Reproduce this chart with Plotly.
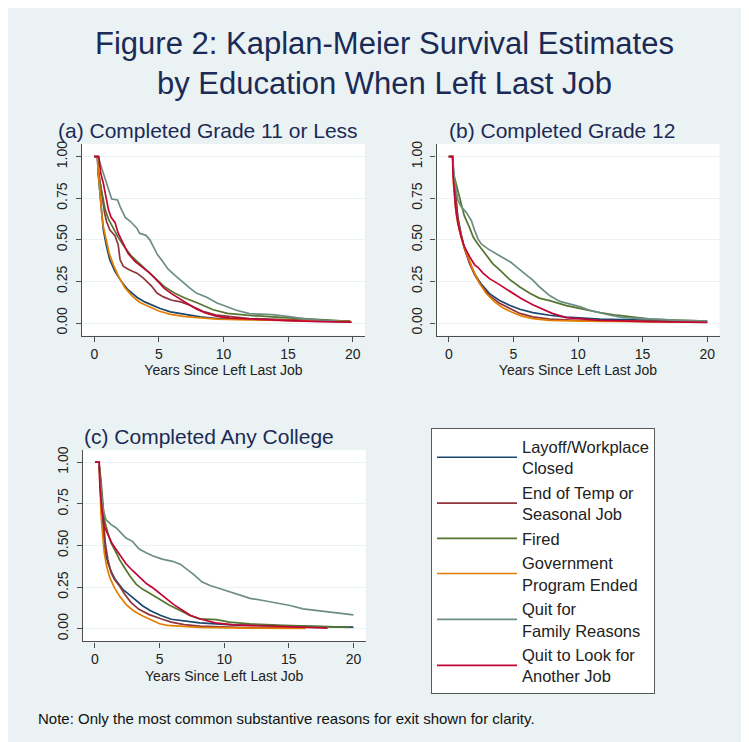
import plotly.graph_objects as go

W, H = 749, 742

# ---------------- labels / styling data ----------------
reasons = ["Layoff/Workplace<br>Closed", "End of Temp or<br>Seasonal Job", "Fired",
           "Government<br>Program Ended", "Quit for<br>Family Reasons",
           "Quit to Look for<br>Another Job"]
colors = ["#1a476f", "#90353b", "#55752f", "#e37e00", "#6e8e84", "#c10534"]
panel_titles = ["(a) Completed Grade 11 or Less", "(b) Completed Grade 12",
                "(c) Completed Any College"]
x_ticks = [0, 5, 10, 15, 20]
y_ticks = [0, 0.25, 0.5, 0.75, 1.0]
y_tick_text = ["0.00", "0.25", "0.50", "0.75", "1.00"]

# ---------------- Panel (a): Grade 11 or less ----------------
a_layoff_t = [0, 0.25, 0.3, 0.45, 0.57, 0.7, 0.95, 1.2, 1.6, 2.1, 2.6, 3.3, 3.9, 4.4, 5.1, 5.9, 6.9, 8.2, 9.5, 12, 16, 19.8]
a_layoff_s = [1, 1, 0.9, 0.76, 0.66, 0.56, 0.46, 0.38, 0.31, 0.25, 0.2, 0.155, 0.127, 0.11, 0.087, 0.067, 0.052, 0.037, 0.027, 0.021, 0.015, 0.008]
a_temp_t = [0, 0.25, 0.3, 0.45, 0.6, 0.8, 0.95, 1.2, 1.6, 1.85, 2.0, 2.25, 2.7, 3.3, 3.8, 4.4, 4.85, 5.35, 6.0, 6.7, 7.4, 8.4, 9.5, 12, 16, 19.8]
a_temp_s = [1, 1, 0.93, 0.84, 0.76, 0.66, 0.61, 0.56, 0.525, 0.47, 0.38, 0.34, 0.32, 0.30, 0.27, 0.225, 0.18, 0.157, 0.137, 0.127, 0.107, 0.07, 0.047, 0.027, 0.017, 0.011]
a_fired_t = [0, 0.25, 0.3, 0.45, 0.6, 0.85, 1.1, 1.45, 1.85, 2.35, 2.9, 3.4, 4.0, 4.7, 5.4, 6.2, 7.0, 8.0, 9.2, 10.3, 11.8, 13.8, 16.4, 18.5, 19.8]
a_fired_s = [1, 1, 0.9, 0.84, 0.76, 0.68, 0.625, 0.575, 0.515, 0.455, 0.4, 0.365, 0.32, 0.27, 0.22, 0.18, 0.15, 0.12, 0.08, 0.058, 0.047, 0.037, 0.025, 0.016, 0.01]
a_gov_t = [0, 0.25, 0.28, 0.36, 0.45, 0.57, 0.7, 0.9, 1.15, 1.5, 1.85, 2.35, 2.9, 3.5, 4.2, 5.0, 5.9, 6.9, 8.0, 9.5, 12, 15, 19.9]
a_gov_s = [1, 1, 0.94, 0.86, 0.76, 0.66, 0.58, 0.5, 0.42, 0.345, 0.285, 0.215, 0.165, 0.125, 0.098, 0.072, 0.052, 0.04, 0.032, 0.024, 0.019, 0.015, 0.008]
a_family_t = [0, 0.3, 0.45, 0.8, 1.1, 1.35, 1.8, 2.0, 2.4, 2.8, 3.3, 3.5, 4.0, 4.3, 4.6, 4.9, 5.3, 5.7, 6.2, 6.7, 7.4, 7.9, 8.7, 9.5, 10.3, 11.0, 12.0, 13.8, 15.1, 16.4, 18.0, 19.9]
a_family_s = [1, 1, 0.96, 0.88, 0.80, 0.745, 0.74, 0.70, 0.635, 0.61, 0.57, 0.54, 0.527, 0.50, 0.455, 0.41, 0.37, 0.325, 0.29, 0.255, 0.21, 0.18, 0.155, 0.12, 0.098, 0.077, 0.057, 0.05, 0.038, 0.024, 0.014, 0.005]
a_look_t = [0, 0.35, 0.5, 0.7, 0.9, 1.1, 1.3, 1.6, 1.85, 2.25, 2.6, 3.15, 3.8, 4.3, 4.8, 5.4, 6.0, 6.6, 7.2, 7.9, 8.6, 9.5, 10.5, 12.5, 15, 17.5, 19.9]
a_look_s = [1, 1, 0.9, 0.84, 0.76, 0.68, 0.635, 0.605, 0.54, 0.48, 0.42, 0.37, 0.33, 0.30, 0.26, 0.21, 0.175, 0.145, 0.115, 0.085, 0.06, 0.04, 0.03, 0.022, 0.015, 0.009, 0.005]

# ---------------- Panel (b): Grade 12 ----------------
b_layoff_t = [0, 0.3, 0.36, 0.52, 0.7, 0.95, 1.2, 1.6, 2.0, 2.5, 3.15, 3.9, 4.7, 5.5, 6.5, 7.8, 9.1, 11.7, 15.6, 20]
b_layoff_s = [1, 1, 0.9, 0.755, 0.635, 0.535, 0.455, 0.365, 0.297, 0.235, 0.177, 0.137, 0.107, 0.083, 0.063, 0.047, 0.035, 0.023, 0.015, 0.008]
b_temp_t = [0, 0.3, 0.36, 0.52, 0.7, 0.95, 1.2, 1.6, 2.0, 2.5, 3.15, 3.9, 4.7, 5.5, 6.5, 7.8, 10.4, 15.6, 20]
b_temp_s = [1, 1, 0.9, 0.75, 0.63, 0.53, 0.45, 0.36, 0.29, 0.225, 0.165, 0.12, 0.088, 0.058, 0.037, 0.024, 0.015, 0.01, 0.006]
b_fired_t = [0, 0.3, 0.36, 0.7, 0.95, 1.2, 1.6, 1.9, 2.25, 2.8, 3.4, 4.0, 4.7, 5.5, 6.3, 7.0, 7.8, 9.1, 10.4, 11.7, 13, 14.3, 15.6, 17.4, 20]
b_fired_s = [1, 1, 0.9, 0.8, 0.715, 0.645, 0.575, 0.515, 0.475, 0.415, 0.357, 0.315, 0.262, 0.217, 0.177, 0.15, 0.135, 0.105, 0.083, 0.063, 0.047, 0.034, 0.024, 0.018, 0.012]
b_gov_t = [0, 0.3, 0.36, 0.57, 0.83, 1.1, 1.5, 1.9, 2.4, 2.9, 3.55, 4.2, 4.9, 5.6, 6.5, 7.8, 10.4, 15, 20]
b_gov_s = [1, 1, 0.84, 0.655, 0.555, 0.475, 0.395, 0.315, 0.237, 0.177, 0.127, 0.09, 0.065, 0.043, 0.027, 0.016, 0.012, 0.008, 0.005]
b_family_t = [0, 0.3, 0.36, 0.44, 0.7, 0.95, 1.35, 1.75, 2.0, 2.25, 2.5, 3.0, 3.7, 4.3, 4.8, 5.4, 5.9, 6.5, 7.05, 7.8, 8.6, 9.4, 10.2, 10.9, 12.5, 13.5, 15.6, 17.4, 20]
b_family_s = [1, 1, 0.94, 0.86, 0.74, 0.7, 0.665, 0.615, 0.557, 0.507, 0.477, 0.447, 0.415, 0.39, 0.365, 0.327, 0.295, 0.258, 0.215, 0.165, 0.13, 0.115, 0.097, 0.077, 0.047, 0.033, 0.023, 0.017, 0.012]
b_look_t = [0, 0.3, 0.32, 0.44, 0.52, 0.7, 0.95, 1.2, 1.6, 2.0, 2.25, 2.65, 3.15, 3.8, 4.5, 5.0, 5.6, 6.5, 7.4, 8.0, 9.1, 11.7, 15.6, 20]
b_look_s = [1, 1, 0.9, 0.8, 0.7, 0.6, 0.52, 0.46, 0.4, 0.35, 0.335, 0.3, 0.267, 0.237, 0.2, 0.175, 0.147, 0.11, 0.08, 0.058, 0.033, 0.016, 0.008, 0.004]

# ---------------- Panel (c): Any college ----------------
c_layoff_t = [0, 0.3, 0.46, 0.54, 0.64, 0.8, 1.0, 1.25, 1.5, 1.75, 2.15, 2.65, 3.2, 3.7, 4.3, 5.1, 5.9, 6.9, 8.1, 10.7, 13.3, 15.9, 20]
c_layoff_s = [1, 1, 0.855, 0.735, 0.595, 0.455, 0.395, 0.345, 0.305, 0.277, 0.237, 0.205, 0.167, 0.137, 0.108, 0.08, 0.057, 0.045, 0.035, 0.024, 0.018, 0.014, 0.01]
c_temp_t = [0, 0.3, 0.46, 0.54, 0.64, 0.8, 1.0, 1.25, 1.5, 1.9, 2.3, 2.8, 3.4, 4.2, 5.1, 5.9, 6.9, 8.1, 11, 16]
c_temp_s = [1, 1, 0.86, 0.775, 0.655, 0.515, 0.415, 0.337, 0.297, 0.257, 0.207, 0.157, 0.117, 0.085, 0.06, 0.04, 0.025, 0.016, 0.009, 0.004]
c_fired_t = [0, 0.3, 0.46, 0.6, 0.72, 1.0, 1.25, 1.65, 1.9, 2.3, 2.7, 3.2, 3.7, 4.3, 5.0, 5.8, 6.6, 7.3, 8.1, 9.4, 10.4, 12, 14.6, 17.2, 19.7]
c_fired_s = [1, 1, 0.895, 0.755, 0.655, 0.575, 0.515, 0.455, 0.415, 0.365, 0.317, 0.267, 0.237, 0.21, 0.178, 0.14, 0.11, 0.082, 0.06, 0.055, 0.04, 0.03, 0.02, 0.012, 0.008]
c_gov_t = [0, 0.3, 0.39, 0.46, 0.6, 0.72, 0.9, 1.15, 1.5, 1.9, 2.4, 3.0, 3.7, 4.4, 5.0, 5.6, 6.5, 8.1, 12, 16.3]
c_gov_s = [1, 1, 0.855, 0.695, 0.555, 0.455, 0.375, 0.307, 0.247, 0.197, 0.147, 0.107, 0.077, 0.05, 0.03, 0.02, 0.015, 0.008, 0.004, 0.002]
c_family_t = [0, 0.3, 0.46, 0.64, 0.85, 1.25, 1.65, 2.0, 2.4, 2.9, 3.4, 3.95, 4.5, 5.2, 6.0, 6.6, 7.1, 7.6, 8.3, 8.9, 9.7, 10.5, 11.2, 12.0, 13.0, 14.1, 15.1, 16.1, 17.2, 18.2, 19.2, 20]
c_family_s = [1, 1, 0.835, 0.715, 0.655, 0.625, 0.605, 0.575, 0.545, 0.525, 0.48, 0.457, 0.437, 0.418, 0.405, 0.388, 0.358, 0.328, 0.28, 0.26, 0.24, 0.22, 0.203, 0.183, 0.17, 0.155, 0.14, 0.12, 0.11, 0.1, 0.09, 0.083]
c_look_t = [0, 0.33, 0.38, 0.54, 0.72, 1.0, 1.3, 1.65, 2.0, 2.4, 2.9, 3.45, 4.0, 4.5, 5.0, 5.5, 6.1, 6.8, 7.4, 8.1, 9.3, 10.7, 13.3, 15.9, 18]
c_look_s = [1, 1, 0.855, 0.715, 0.615, 0.565, 0.515, 0.475, 0.435, 0.39, 0.35, 0.31, 0.27, 0.245, 0.215, 0.18, 0.145, 0.11, 0.08, 0.06, 0.036, 0.024, 0.016, 0.01, 0.004]

panels = [
    [(a_layoff_t, a_layoff_s), (a_temp_t, a_temp_s), (a_fired_t, a_fired_s),
     (a_gov_t, a_gov_s), (a_family_t, a_family_s), (a_look_t, a_look_s)],
    [(b_layoff_t, b_layoff_s), (b_temp_t, b_temp_s), (b_fired_t, b_fired_s),
     (b_gov_t, b_gov_s), (b_family_t, b_family_s), (b_look_t, b_look_s)],
    [(c_layoff_t, c_layoff_s), (c_temp_t, c_temp_s), (c_fired_t, c_fired_s),
     (c_gov_t, c_gov_s), (c_family_t, c_family_s), (c_look_t, c_look_s)],
]

# ---------------- figure ----------------
FONT = "Liberation Sans, Arial, Helvetica, sans-serif"
BG = "#eaf2f3"
NAVY = "#1c2a56"
AXIS = "#4d4d4d"

fig = go.Figure()
axis_suffix = ["", "2", "3"]
for p, series in enumerate(panels):
    for i, (t, s) in enumerate(series):
        fig.add_trace(go.Scatter(
            x=t, y=s, mode="lines", name=reasons[i],
            line=dict(color=colors[i], width=1.7),
            xaxis="x" + axis_suffix[p], yaxis="y" + axis_suffix[p],
            legendgroup=str(i), showlegend=(p == 0),
            hoverinfo="skip"))

# page pixel -> paper fraction (the page has an 8px body margin)
OFF = 8

def fx(px):
    return (px - OFF) / W

def fy(py):
    return 1 - (py - OFF) / H

xdom = [[fx(82), fx(365)], [fx(436.5), fx(719.5)], [fx(82.7), fx(365.7)]]
ydom = [[fy(334), fy(141.7)], [fy(334), fy(141.7)], [fy(641), fy(448.5)]]

layout = dict(
    width=W, height=H,
    margin=dict(l=0, r=0, t=0, b=0),
    paper_bgcolor=BG, plot_bgcolor="white",
    font=dict(family=FONT, color="#222222"),
    showlegend=True,
    legend=dict(x=fx(431), y=fy(427), xanchor="left", yanchor="top",
                bgcolor="white", bordercolor="#5a5a5a", borderwidth=1,
                font=dict(family=FONT, size=16.5, color="#222222"),
                itemwidth=80, tracegroupgap=0, valign="middle"),
    title=dict(text="Figure 2: Kaplan-Meier Survival Estimates<br>by Education When Left Last Job",
               x=fx(384.5), xanchor="center", y=fy(51), yanchor="middle",
               xref="paper", yref="paper",
               font=dict(family=FONT, size=31, color=NAVY)),
)

for p in range(3):
    sfx = axis_suffix[p]
    layout["xaxis" + sfx] = dict(
        domain=xdom[p], range=[-0.95, 20.95], anchor="y" + sfx,
        tickvals=x_ticks, ticks="outside", ticklen=5, tickcolor=AXIS,
        showline=True, linecolor=AXIS, linewidth=1.2, showgrid=False, zeroline=False,
        tickfont=dict(size=14, color="#222222"),
        title=dict(text="Years Since Left Last Job", font=dict(size=14, color="#222222"),
                   standoff=4),
        fixedrange=True)
    layout["yaxis" + sfx] = dict(
        domain=ydom[p], range=[-0.076, 1.075], anchor="x" + sfx,
        tickvals=y_ticks, ticktext=y_tick_text, tickangle=-90,
        ticks="outside", ticklen=5, tickcolor=AXIS,
        showline=True, linecolor=AXIS, linewidth=1.2,
        showgrid=True, gridcolor=BG, gridwidth=1.3, zeroline=False,
        tickfont=dict(size=14, color="#222222"), ticklabelstandoff=3,
        fixedrange=True)

fig.update_layout(**layout)

# subplot titles
title_pos = [(208, 128), (561.5, 128), (208.5, 435)]
for p in range(3):
    fig.add_annotation(text=panel_titles[p], x=fx(title_pos[p][0]), y=fy(title_pos[p][1]),
                       xref="paper", yref="paper", xanchor="center", yanchor="middle",
                       showarrow=False, font=dict(family=FONT, size=21, color=NAVY))

# note
fig.add_annotation(text="Note: Only the most common substantive reasons for exit shown for clarity.",
                   x=fx(36), y=fy(718), xref="paper", yref="paper",
                   xanchor="left", yanchor="middle", showarrow=False,
                   font=dict(family=FONT, size=15, color="#111111"))

fig.write_html("out.html")
